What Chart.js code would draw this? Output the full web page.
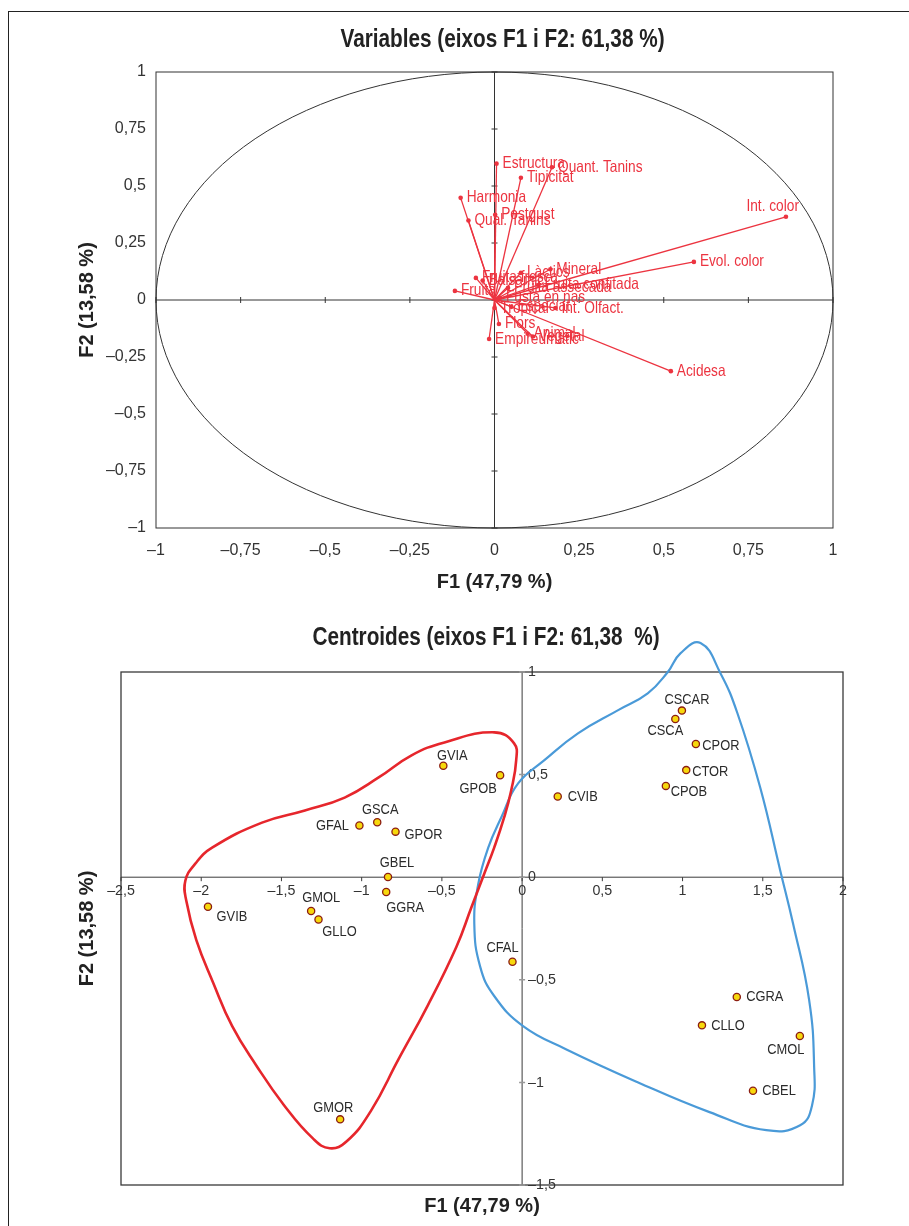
<!DOCTYPE html>
<html>
<head>
<meta charset="utf-8">
<script src="https://cdn.jsdelivr.net/npm/chart.js@4/dist/chart.umd.min.js"></script>
<style>
  html, body { margin: 0; padding: 0; background: #fff; }
  #page { position: relative; width: 909px; height: 1226px; overflow: hidden; background: #fff; }
  #frame { position: absolute; left: 8px; top: 11px; width: 960px; height: 1300px;
           border-left: 1.5px solid #222; border-top: 1.5px solid #222; }
  canvas { position: absolute; left: 0; }
  #c1 { top: 0; }
  #c2 { top: 600px; }
</style>
</head>
<body>
<div id="page">
  <div id="frame"></div>
  <canvas id="c1" width="909" height="600"></canvas>
  <canvas id="c2" width="909" height="626"></canvas>
</div>
<script>
    // ---- Variables (F1 / F2 correlations) ----
    const varNames = ['Estructura', 'Quant. Tanins', 'Tipicitat', 'Harmonia', 'Postgust', 'Qual. Tanins',
        'Int. color', 'Evol. color', 'Acidesa', 'Mineral', 'Làctics', 'Fruita confitada',
        'Fruita assecada', 'Fruita', 'Fruita fresca', 'Balsàmic', 'Fusta en nas', 'Tropical',
        'Especiat', 'Int. Olfact.', 'Flors', 'Empireumàtic', 'Animal', 'Vegetal'];
    const varF1 = [0.006, 0.170, 0.078, -0.100, 0.002, -0.077,
        0.861, 0.589, 0.521, 0.165, 0.078, 0.130,
        0.040, -0.117, -0.055, -0.035, 0.016, 0.000,
        0.050, 0.180, 0.013, -0.016, 0.098, 0.113];
    const varF2 = [0.598, 0.582, 0.536, 0.448, 0.374, 0.349,
        0.365, 0.167, -0.312, 0.135, 0.119, 0.066,
        0.053, 0.040, 0.097, 0.085, 0.010, -0.035,
        -0.030, -0.035, -0.105, -0.171, -0.148, -0.160];

    // ---- Centroides ----
    const centNames = ['GVIA', 'GPOB', 'GSCA', 'GFAL', 'GPOR', 'GBEL', 'GGRA', 'GVIB', 'GMOL', 'GLLO', 'GMOR',
        'CVIB', 'CSCAR', 'CSCA', 'CPOR', 'CTOR', 'CPOB', 'CFAL', 'CGRA', 'CLLO', 'CMOL', 'CBEL'];
    const centF1 = [-0.491, -0.137, -0.903, -1.014, -0.789, -0.836, -0.847, -1.958, -1.315, -1.269, -1.134,
        0.222, 0.996, 0.955, 1.083, 1.023, 0.896, -0.060, 1.338, 1.121, 1.731, 1.439];
    const centF2 = [0.543, 0.497, 0.268, 0.252, 0.222, 0.001, -0.072, -0.144, -0.165, -0.206, -1.180,
        0.393, 0.812, 0.771, 0.649, 0.522, 0.445, -0.412, -0.584, -0.722, -0.774, -1.041];
    const ticksF1 = [-2.5, -2, -1.5, -1, -0.5, 0, 0.5, 1, 1.5, 2];
    const ticksF2 = [-1.5, -1, -0.5, 0, 0.5, 1];

    // hand drawn group outlines
    const redLoopF1 = [-0.174, -0.050, -0.037, -0.068, -0.112, -0.174, -0.236, -0.317, -0.410, -0.590,
        -0.770, -0.944, -1.093, -1.199, -1.304, -1.484, -1.658, -1.807, -1.925, -2.031,
        -2.093, -2.099, -2.037, -1.932, -1.621, -1.354, -1.106, -0.894, -0.689, -0.484];
    const redLoopF2 = [0.706, 0.652, 0.569, 0.423, 0.291, 0.144, 0.017, -0.149, -0.340, -0.628,
        -0.887, -1.141, -1.287, -1.321, -1.273, -1.111, -0.916, -0.726, -0.515, -0.305,
        -0.115, -0.017, 0.066, 0.144, 0.266, 0.325, 0.388, 0.486, 0.594, 0.657];
    const blueLoopF1 = [1.112, 1.236, 1.342, 1.484, 1.609, 1.689, 1.789, 1.820, 1.807, 1.733,
        1.522, 1.168, 0.720, 0.273, 0.006, -0.174, -0.261, -0.298, -0.273, -0.211,
        -0.130, -0.025, 0.137, 0.348, 0.596, 0.783, 0.907, 0.988];
    const blueLoopF2 = [1.141, 0.994, 0.799, 0.437, 0.032, -0.227, -0.599, -0.921, -1.112, -1.209,
        -1.233, -1.145, -0.999, -0.838, -0.726, -0.579, -0.437, -0.227, -0.032, 0.144,
        0.291, 0.457, 0.569, 0.701, 0.813, 0.896, 0.999, 1.092];

    // label placement (pixels) for the centroid names
    const centLabelDx = [9, -22, 3, -27, 28, 9, 19, 24, 10, 21, -7, 25, 5, -10, 25, 24, 23, -10, 28, 26, -14, 26];
    const centLabelDy = [-10, 14, -12, 0, 3, -14, 16, 10, -13, 12, -12, 0, -11, 12, 2, 2, 6, -14, 0, 0, 14, 0];

    const SANS = "'Liberation Sans', Arial, sans-serif";
    const RED = '#ec3440';
    const SQUEEZE = 0.83; // the original uses a condensed face

    function fmt(v) {
        return (Math.round(v * 100) / 100).toString().replace('.', ',').replace('-', '\u2013');
    }

    // draw text squeezed horizontally
    function condText(ctx, text, x, y, align, sx) {
        ctx.save();
        ctx.translate(x, y);
        ctx.scale(sx || SQUEEZE, 1);
        ctx.textAlign = align;
        ctx.fillText(text, 0, 0);
        ctx.restore();
    }

    function drawTitle(chart, text, dx, y) {
        const {ctx, chartArea: a} = chart;
        ctx.save();
        ctx.font = 'bold 25px ' + SANS;
        ctx.fillStyle = '#222';
        ctx.textBaseline = 'middle';
        condText(ctx, text, (a.left + a.right) / 2 + dx, y, 'center');
        ctx.restore();
    }

    // ---------- chart 1 : correlation circle ----------
    const circlePlugin = {
        id: 'circleAxes',
        beforeDatasetsDraw(chart) {
            const {ctx, chartArea: a, scales: {x, y}} = chart;
            const x0 = x.getPixelForValue(0), y0 = y.getPixelForValue(0);
            ctx.save();
            ctx.strokeStyle = '#333';
            ctx.lineWidth = 1;
            ctx.strokeRect(a.left, a.top, a.right - a.left, a.bottom - a.top);
            ctx.beginPath();
            ctx.ellipse(x0, y0, x.getPixelForValue(1) - x0, y0 - y.getPixelForValue(1), 0, 0, Math.PI * 2);
            ctx.stroke();
            ctx.beginPath();
            ctx.moveTo(a.left, y0); ctx.lineTo(a.right, y0);
            ctx.moveTo(x0, a.top); ctx.lineTo(x0, a.bottom);
            x.ticks.forEach(t => {
                const px = x.getPixelForValue(t.value);
                ctx.moveTo(px, y0 - 3); ctx.lineTo(px, y0 + 3);
            });
            y.ticks.forEach(t => {
                const py = y.getPixelForValue(t.value);
                ctx.moveTo(x0 - 3, py); ctx.lineTo(x0 + 3, py);
            });
            ctx.stroke();
            ctx.restore();
        },
        afterDatasetsDraw(chart) {
            const ctx = chart.ctx;
            ctx.save();
            ctx.font = '16.5px ' + SANS;
            ctx.fillStyle = RED;
            ctx.textBaseline = 'middle';
            varNames.forEach((name, i) => {
                const pt = chart.getDatasetMeta(i).data[1];
                if (name === 'Int. color') {
                    condText(ctx, name, pt.x + 13, pt.y - 10, 'right');
                } else {
                    condText(ctx, name, pt.x + 6, pt.y, 'left');
                }
            });
            ctx.restore();
        },
        afterDraw(chart) {
            drawTitle(chart, 'Variables (eixos F1 i F2: 61,38 %)', 8, 40);
        }
    };

    const vecDatasets = varNames.map((name, i) => ({
        label: name,
        data: [{x: 0, y: 0}, {x: varF1[i], y: varF2[i]}],
        showLine: true,
        borderColor: RED,
        borderWidth: 1.3,
        pointRadius: [0, 2.3],
        pointBackgroundColor: RED,
        pointBorderWidth: 0
    }));

    const axisCommon1 = {
        type: 'linear',
        min: -1,
        max: 1,
        grid: {display: false, drawTicks: false},
        border: {display: false},
        ticks: {stepSize: 0.25, color: '#333', font: {family: SANS, size: 16}, callback: v => fmt(v)}
    };

    new Chart(document.getElementById('c1'), {
        type: 'scatter',
        data: {datasets: vecDatasets},
        options: {
            responsive: false,
            animation: false,
            events: [],
            layout: {padding: {left: 72, right: 76, top: 72, bottom: 6}},
            plugins: {
                legend: {display: false},
                tooltip: {enabled: false}
            },
            scales: {
                x: Object.assign({}, axisCommon1, {
                    ticks: Object.assign({}, axisCommon1.ticks, {padding: 13, maxRotation: 0}),
                    title: {display: true, text: 'F1 (47,79 %)', color: '#222',
                        font: {family: SANS, size: 20, weight: 'bold'}, padding: {top: 4, bottom: 0}},
                    afterFit: s => { s.height = 66; }
                }),
                y: Object.assign({}, axisCommon1, {
                    ticks: Object.assign({}, axisCommon1.ticks, {padding: 10}),
                    title: {display: true, text: 'F2 (13,58 %)', color: '#222',
                        font: {family: SANS, size: 20, weight: 'bold'}, padding: {top: 3, bottom: 0}},
                    afterFit: s => { s.width = 84; }
                })
            }
        },
        plugins: [circlePlugin]
    });

    // ---------- chart 2 : centroids ----------
    const centPlugin = {
        id: 'centAxes',
        beforeDatasetsDraw(chart) {
            const {ctx, chartArea: a, scales: {x, y}} = chart;
            const x0 = x.getPixelForValue(0), y0 = y.getPixelForValue(0);
            ctx.save();
            ctx.strokeStyle = '#3a3a3a';
            ctx.lineWidth = 1.3;
            ctx.strokeRect(a.left, a.top, a.right - a.left, a.bottom - a.top);
            ctx.lineWidth = 1;
            ctx.beginPath();
            ctx.moveTo(a.left, y0); ctx.lineTo(a.right, y0);
            ctx.moveTo(x0, a.top); ctx.lineTo(x0, a.bottom);
            ticksF1.forEach(v => {
                const px = x.getPixelForValue(v);
                ctx.moveTo(px, y0); ctx.lineTo(px, y0 + 4);
            });
            ctx.stroke();
            ctx.strokeStyle = '#999';
            ctx.lineWidth = 1.5;
            ctx.beginPath();
            ticksF2.forEach(v => {
                const py = y.getPixelForValue(v);
                ctx.moveTo(x0 - 3, py); ctx.lineTo(x0 + 3, py);
            });
            ctx.stroke();
            ctx.fillStyle = '#333';
            ctx.font = '15px ' + SANS;
            ctx.textBaseline = 'middle';
            ticksF1.forEach(v => condText(ctx, fmt(v), x.getPixelForValue(v), y0 + 14, 'center', 0.95));
            ticksF2.forEach(v => condText(ctx, fmt(v), x0 + 6, y.getPixelForValue(v), 'left', 0.95));
            ctx.restore();
        },
        afterDatasetsDraw(chart) {
            const ctx = chart.ctx;
            const meta = chart.getDatasetMeta(0);
            ctx.save();
            ctx.font = '15.5px ' + SANS;
            ctx.fillStyle = '#2b2b2b';
            ctx.textBaseline = 'middle';
            meta.data.forEach((pt, i) => {
                condText(ctx, centNames[i], pt.x + centLabelDx[i], pt.y + centLabelDy[i], 'center');
            });
            ctx.restore();
        },
        afterDraw(chart) {
            drawTitle(chart, 'Centroides (eixos F1 i F2: 61,38  %)', 4, 38);
        }
    };

    // closed smooth outline: wrap the ends so every drawn point has two neighbours
    function loopDataset(f1, f2, color, width) {
        const n = f1.length;
        const pts = f1.map((v, i) => ({x: v, y: f2[i]}));
        return {
            data: [pts[n - 1], ...pts, pts[0], pts[1]],
            showLine: true,
            tension: 0.45,
            capBezierPoints: false,
            clip: false,
            borderColor: color,
            borderWidth: width,
            pointRadius: 0,
            segment: {
                borderColor: c => (c.p0DataIndex === 0 || c.p0DataIndex === n + 1) ? 'rgba(0,0,0,0)' : color
            }
        };
    }

    new Chart(document.getElementById('c2'), {
        type: 'scatter',
        data: {
            datasets: [
                {
                    data: centF1.map((v, i) => ({x: v, y: centF2[i]})),
                    pointRadius: 3.6,
                    pointBackgroundColor: '#f7d80c',
                    pointBorderColor: '#8c1d12',
                    pointBorderWidth: 1.3
                },
                loopDataset(redLoopF1, redLoopF2, '#e6262c', 2.6),
                loopDataset(blueLoopF1, blueLoopF2, '#4a9ad8', 2.2)
            ]
        },
        options: {
            responsive: false,
            animation: false,
            events: [],
            layout: {padding: {left: 72, right: 66, top: 72, bottom: 8}},
            plugins: {
                legend: {display: false},
                tooltip: {enabled: false}
            },
            scales: {
                x: {
                    type: 'linear', min: -2.5, max: 2,
                    grid: {display: false, drawTicks: false},
                    border: {display: false},
                    ticks: {display: false},
                    title: {display: true, text: 'F1 (47,79 %)', color: '#222',
                        font: {family: SANS, size: 20, weight: 'bold'}, padding: {top: 4, bottom: 0}},
                    afterFit: s => { s.height = 33; }
                },
                y: {
                    type: 'linear', min: -1.5, max: 1,
                    grid: {display: false, drawTicks: false},
                    border: {display: false},
                    ticks: {display: false},
                    title: {display: true, text: 'F2 (13,58 %)', color: '#222',
                        font: {family: SANS, size: 20, weight: 'bold'}, padding: {top: 3, bottom: 0}},
                    afterFit: s => { s.width = 49; }
                }
            }
        },
        plugins: [centPlugin]
    });
</script>
</body>
</html>
